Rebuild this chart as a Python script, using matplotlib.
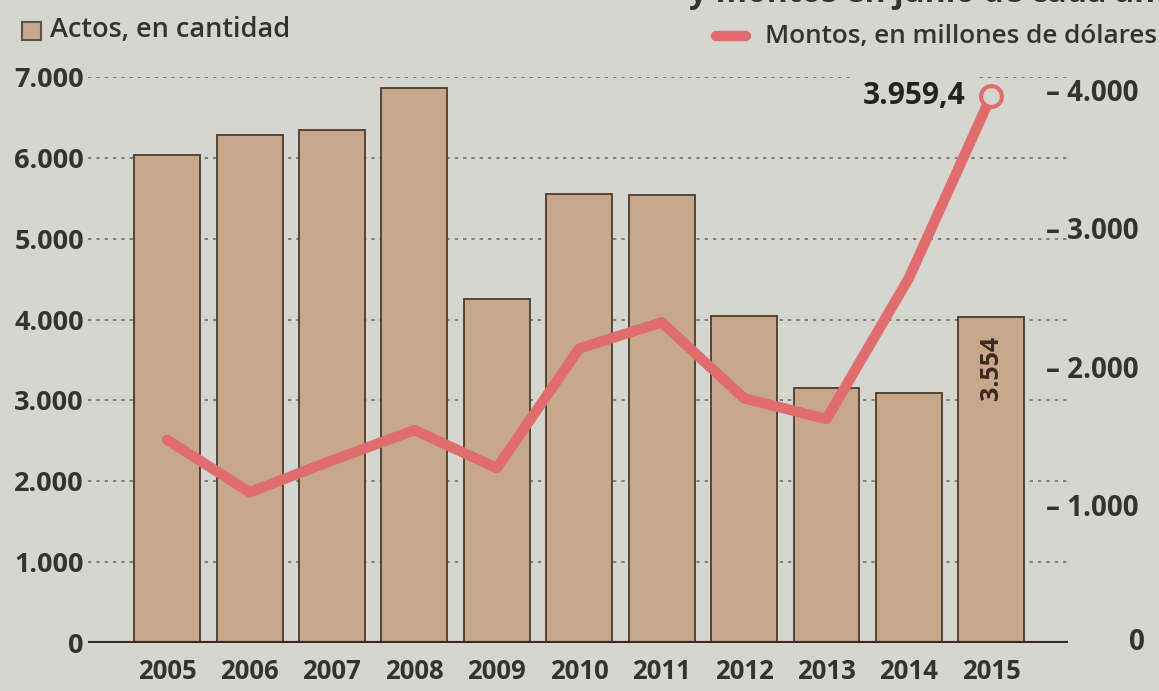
import matplotlib
matplotlib.use('Agg')
import matplotlib.pyplot as plt
import numpy as np

years = ['2005', '2006', '2007', '2008', '2009', '2010', '2011', '2012', '2013', '2014', '2015']
actos = [6030, 6280, 6350, 6860, 4260, 5550, 5540, 4040, 3150, 3090, 4030]
montos = [1470, 1090, 1320, 1540, 1265, 2130, 2320, 1770, 1620, 2640, 3959.4]
left_ticks = [0, 1000, 2000, 3000, 4000, 5000, 6000, 7000]
left_labels = ['0', '1.000', '2.000', '3.000', '4.000', '5.000', '6.000', '7.000']
right_ticks = [1000, 2000, 3000, 4000]
right_labels = ['– 1.000', '– 2.000', '– 3.000', '– 4.000']

bg = '#d5d6d0'
bar_color = '#c7a88b'
edge_color = '#4a3b30'
line_color = '#e06c6e'
text_color = '#333333'
font = ['Open Sans', 'DejaVu Sans']

plt.rcParams['font.family'] = font

fig = plt.figure(figsize=(11.59, 6.91), dpi=100, facecolor=bg)
ax = fig.add_axes([88 / 1159, 48 / 691, 980 / 1159, 566 / 691])
ax.set_facecolor(bg)
x = np.arange(len(years))

ax.bar(x, actos, width=0.8, color=bar_color, edgecolor=edge_color, linewidth=1.3, zorder=2)
ax.set_xlim(-0.96, 10.93)
ax.set_ylim(0, 7000)
ax.set_yticks(left_ticks)
ax.set_yticklabels(left_labels, fontsize=19.5, fontweight='bold', color=text_color)
ax.set_xticks(x)
ax.set_xticklabels(years, fontsize=18.5, fontweight='bold', color=text_color)
ax.tick_params(axis='both', length=0)
ax.tick_params(axis='y', pad=3)
ax.tick_params(axis='x', pad=11)
for t in left_ticks[1:]:
    ax.axhline(t, color='#6e6e6e', lw=1.2, ls=(0, (2, 3)), zorder=1)
ax.axhline(0, color='#3a2a22', lw=3, zorder=3)
for s in ax.spines.values():
    s.set_visible(False)

ax2 = ax.twinx()
ax2.set_ylim(0, 4000 * 566 / 553)
ax2.plot(x, montos, color=line_color, lw=7.5, solid_capstyle='round', solid_joinstyle='round', zorder=4)
ax2.plot(x[-1], montos[-1], 'o', ms=15, mfc=bg, mec=line_color, mew=3, zorder=5)
ax2.set_yticks(right_ticks)
ax2.set_yticklabels(right_labels, fontsize=20, fontweight='bold', color=text_color)
ax2.tick_params(axis='y', length=0, pad=-16)
ax2.text(1.07, 0, '0', transform=ax2.get_yaxis_transform(), fontsize=20, fontweight='bold',
         color=text_color, ha='center', va='center')
for s in ax2.spines.values():
    s.set_visible(False)

ax2.text(x[-1] - 0.31, montos[-1], '3.959,4', fontsize=21.5, fontweight='bold', color='#222222',
         ha='right', va='center', zorder=6,
         bbox=dict(boxstyle='square,pad=0.3', fc=bg, ec='none'))
ax.text(x[-1], actos[-1] - 230, '3.554', rotation=90, fontsize=18, fontweight='bold',
        color='#3a2a20', ha='center', va='top', zorder=6)

# legend
fig.patches.append(plt.Rectangle((22 / 1159, 1 - 40 / 691), 19 / 1159, 18 / 691, transform=fig.transFigure,
                                 fc=bar_color, ec='#555555', lw=1.5))
fig.text(50 / 1159, 1 - 30 / 691, 'Actos, en cantidad', fontsize=19.5, fontweight='semibold',
         color=text_color, ha='left', va='center')
fig.add_artist(plt.Line2D([716 / 1159, 746 / 1159], [1 - 36 / 691, 1 - 36 / 691], color=line_color,
                          lw=7.5, solid_capstyle='round', transform=fig.transFigure))
fig.text(1157 / 1159, 1 - 36 / 691, 'Montos, en millones de dólares', fontsize=18.8, fontweight='semibold',
         color=text_color, ha='right', va='center')
# title line cut off by the top edge of the photo
fig.text(1175 / 1159, 1 - 2 / 691, 'y montos en junio de cada año', fontsize=23, fontweight='bold',
         color=text_color, ha='right', va='baseline')

fig.savefig('out.png', dpi=100, facecolor=bg)
